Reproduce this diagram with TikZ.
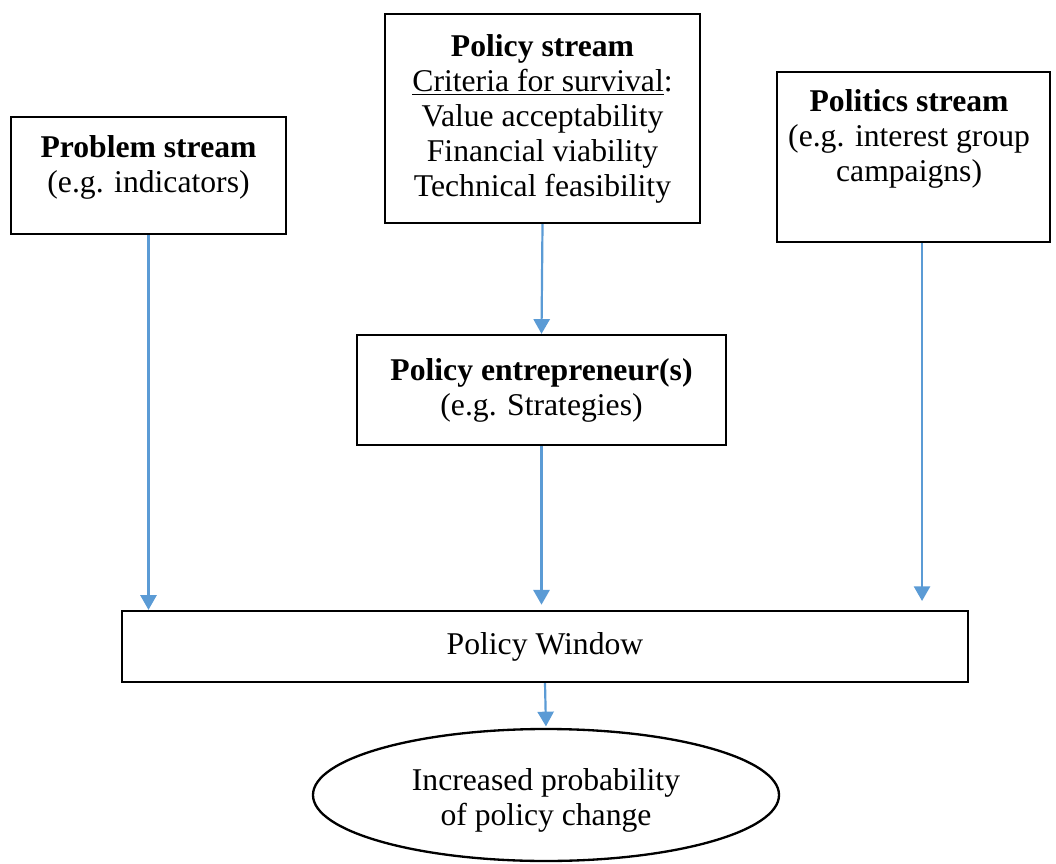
\documentclass[tikz,border=0pt]{standalone}
\usepackage{fontspec}
\setmainfont{Liberation Serif}
\usepackage{tikz}
\usetikzlibrary{arrows.meta,positioning,shapes.geometric}
\definecolor{arrowblue}{RGB}{91,155,213}

\begin{document}
\fontsize{12.25}{13.55}\selectfont
\begin{tikzpicture}[semithick]
  \tikzstyle{stream}=[rectangle,
                      line width=0.9pt,
                      draw=black,
                      align=center,
                      inner sep=0pt]
  \tikzstyle{outcome}=[ellipse,
                       line width=0.9pt,
                       draw=black,
                       inner sep=0pt]
  \tikzstyle{texto}=[align=center,inner sep=0pt]
  \tikzstyle{flow}=[-{Triangle[width=0.22cm,length=0.2cm]},
                    draw=arrowblue,
                    line width=0.85pt]
  \useasboundingbox (0,0) rectangle (14.3616,-11.7504);
  %Corrientes
  \node[stream,minimum width=3.74cm,minimum height=1.591cm] (prob) [shift={(2.0196,-2.3868)}] {};
  \node[texto] (probtxt) [below=0.26cm of prob.north] {\textbf{Problem stream}\\(e.g. indicators)};
  \node[stream,minimum width=4.284cm,minimum height=2.842cm] (pol) [shift={(7.378,-1.6116)}]
       {\textbf{Policy stream}\\\underline{Criteria for survival}:\\Value acceptability\\Financial viability\\Technical feasibility};
  \node[stream,minimum width=3.713cm,minimum height=2.312cm] (polit) [shift={(12.4236,-2.1352)}] {};
  \node[texto] (polittxt) [below=0.25cm of polit.north, xshift=-0.06cm] {\textbf{Politics stream}\\(e.g. interest group\\campaigns)};
  %Emprendedor
  \node[stream,minimum width=5.018cm,minimum height=1.496cm] (entr) [shift={(7.3644,-5.304)}]
       {\textbf{Policy entrepreneur(s)}\\(e.g. Strategies)};
  %Ventana y resultado
  \node[stream,minimum width=11.506cm,minimum height=0.966cm] (win) [shift={(7.412,-8.7924)}] {Policy Window};
  \node[outcome,minimum width=6.338cm,minimum height=1.795cm] (ell) [shift={(7.4256,-10.812)}] {};
  \node[texto] (elltxt) [below=0.08cm of ell.center, anchor=center] {Increased probability\\of policy change};
  \coordinate (politout) at ([xshift=0.116cm]polit.south);

  \draw[flow] (prob.south) -- (prob.south |- win.north);
  \draw[flow] (pol.south) -- (entr.north);
  \draw[flow,shorten >=0.07cm] (entr.south) -- (entr.south |- win.north);
  \draw[flow,shorten >=0.12cm] (politout) -- (politout |- win.north);
  \draw[flow,shorten >=0.02cm] (win.south) -- (ell.north);
\end{tikzpicture}
\end{document}
